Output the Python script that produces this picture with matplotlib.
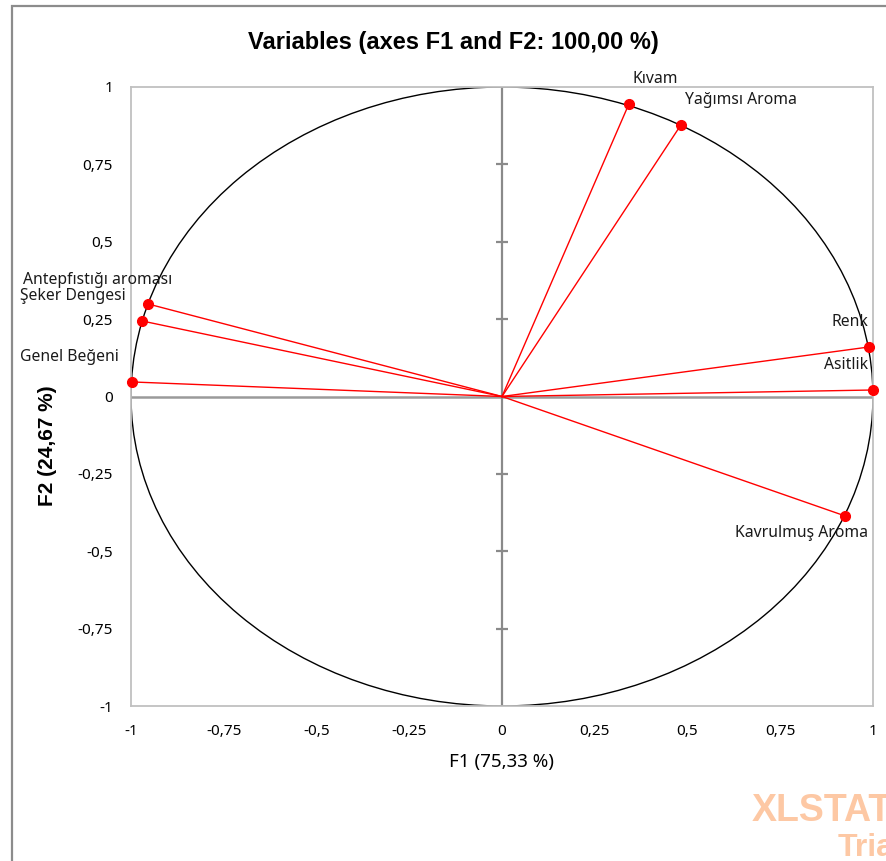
import matplotlib
matplotlib.use("Agg")
import matplotlib.pyplot as plt
from matplotlib.patches import Circle, Rectangle

# ---- data ----
variables = ["Kıvam", "Yağımsı Aroma", "Antepfıstığı aroması", "Şeker Dengesi",
             "Genel Beğeni", "Renk", "Asitlik", "Kavrulmuş Aroma"]
f1 = [0.342, 0.482, -0.954, -0.970, -0.997, 0.989, 0.999, 0.925]
f2 = [0.945, 0.877, 0.299, 0.244, 0.047, 0.160, 0.021, -0.386]
ticks = [-1, -0.75, -0.5, -0.25, 0, 0.25, 0.5, 0.75, 1]
tick_labels = ["-1", "-0,75", "-0,5", "-0,25", "0", "0,25", "0,5", "0,75", "1"]
title = "Variables (axes F1 and F2: 100,00 %)"
xlabel = "F1 (75,33 %)"
ylabel = "F2 (24,67 %)"

# label offsets (pixels) and alignment
label_style = {
    "Kıvam": ((4, 25), "left"),
    "Yağımsı Aroma": ((4, 25), "left"),
    "Antepfıstığı aroması": ((24, 24), "right"),
    "Şeker Dengesi": ((-16, 25), "right"),
    "Genel Beğeni": ((-13, 25), "right"),
    "Renk": ((-1, 25), "right"),
    "Asitlik": ((-5, 25), "right"),
    "Kavrulmuş Aroma": ((23, -17), "right"),
}

W, H = 887, 861
fig = plt.figure(figsize=(W / 100, H / 100), dpi=100)
fig.patch.set_facecolor("white")

# outer chart border
fig.add_artist(Rectangle((12 / W, -0.01), 1.0, 1 - 6 / H + 0.01, transform=fig.transFigure,
                         fill=False, edgecolor="#8c8c8c", linewidth=1.6))

ax = fig.add_axes([131 / W, 1 - 706 / H, 742 / W, 619 / H])
ax.set_xlim(-1, 1)
ax.set_ylim(-1, 1)
for s in ax.spines.values():
    s.set_color("#c0c0c0")
    s.set_linewidth(1.3)

ax.set_xticks(ticks)
ax.set_yticks(ticks)
ax.set_xticklabels(tick_labels)
ax.set_yticklabels(tick_labels)
ax.tick_params(length=0, labelsize=11, colors="black")
ax.tick_params(axis="x", pad=13)
ax.tick_params(axis="y", pad=13)
for lab in ax.get_xticklabels() + ax.get_yticklabels():
    lab.set_fontfamily("Noto Sans")

# zero axes with cross ticks on the vertical axis
ax.axhline(0, color="#9a9a9a", linewidth=1.8, zorder=1)
ax.axvline(0, color="#8a8a8a", linewidth=1.6, zorder=1)
inner = [t for t in ticks if abs(t) < 1 and t != 0]
ax.plot([0] * len(inner), inner, linestyle="none", marker="_", markersize=8,
        markeredgewidth=1.6, color="#8a8a8a", zorder=1)

# correlation circle
ax.add_patch(Circle((0, 0), 1, fill=False, edgecolor="black", linewidth=1.0, zorder=2))

# vectors
for name, x, y in zip(variables, f1, f2):
    ax.plot([0, x], [0, y], color="red", linewidth=1.0, zorder=3)
    ax.plot([x], [y], marker="o", color="red", markersize=7, zorder=4, clip_on=False)
    off, ha = label_style[name]
    ax.annotate(name, (x, y), xytext=off, textcoords="offset pixels", ha=ha, va="center",
                fontsize=11.3, family="Noto Sans", color="#1a1a1a", annotation_clip=False)

fig.text(453 / W, 1 - 42 / H, title, ha="center", va="center", fontsize=17,
         fontweight="bold", family="Liberation Sans")
fig.text(502 / W, 1 - 762 / H, xlabel, ha="center", va="center", fontsize=13.5,
         family="Noto Sans")
fig.text(48 / W, 1 - 446 / H, ylabel, ha="center", va="center", fontsize=15,
         fontweight="bold", family="Liberation Sans", rotation=90)

# watermark
fig.text(752 / W, 1 - 811 / H, "XLSTAT", ha="left", va="center", fontsize=27,
         fontweight="bold", family="Liberation Sans", color="#fdc8a4")
fig.text(838 / W, 1 - 848 / H, "Trial", ha="left", va="center", fontsize=23,
         fontweight="bold", family="Liberation Sans", color="#fdc8a4")

fig.savefig("out.png", dpi=100, facecolor="white")
